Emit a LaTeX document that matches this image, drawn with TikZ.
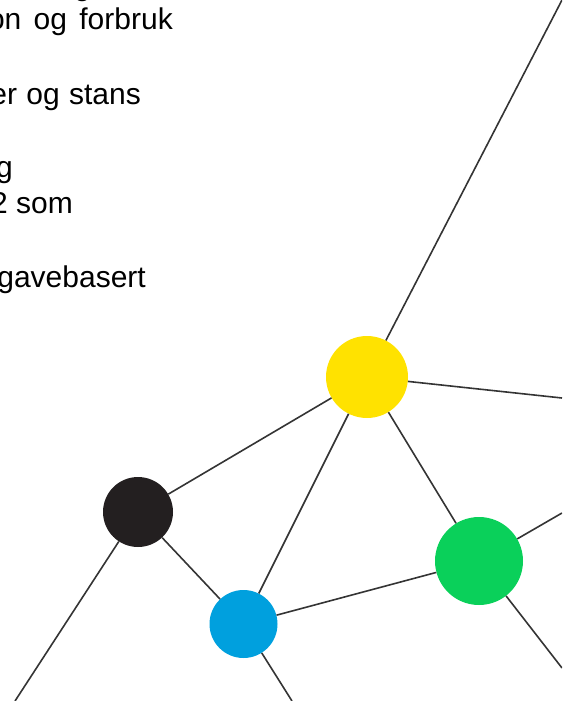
\documentclass[tikz,border=0pt]{standalone}
\usepackage{fontspec}
\setmainfont{Liberation Sans}
\definecolor{dotyellow}{RGB}{255,226,0}
\definecolor{dotblack}{RGB}{35,31,32}
\definecolor{dotblue}{RGB}{0,160,222}
\definecolor{dotgreen}{RGB}{10,208,90}
\definecolor{wirecol}{RGB}{52,52,52}
\begin{document}
\begin{tikzpicture}[x=1pt,y=-1pt,
  dot/.style={circle, inner sep=0pt, draw=none},
  txt/.style={anchor=base east, inner sep=0pt, text=black, font=\fontsize{30}{36}\selectfont},
  wire/.style={line width=1.6pt, draw=wirecol}]
\useasboundingbox (0,0) rectangle (562,701);
\clip (0,0) rectangle (562,701);
% text, cut at the left edge (justified, so wider spaces)
\node[txt] (ln0) at (91,-4) {g};
\node[txt] (ln1) at (173,30) {on\hspace{4pt} og\hspace{4pt} forbruk};
\node[txt] (ln2) at (141,104) {er\hspace{1pt} og\hspace{1pt} stans};
\node[txt] (ln3) at (13,177) {g};
\node[txt] (ln4) at (73,213) {2 som};
\node[txt] (ln5) at (146,287) {gavebasert};
% dots
\node[dot, fill=dotyellow, minimum size=82pt] (yel) at (367,377){};
\node[dot, fill=dotblack, minimum size=70pt] (blk) at (138,512){};
\node[dot, fill=dotblue, minimum size=68pt] (blu) at (243.5,624){};
\node[dot, fill=dotgreen, minimum size=88pt] (grn) at (479,561){};
% free ends at the edges
\coordinate (eTop) at (562,0);
\coordinate (eRa) at (562,398);
\coordinate (eRb) at (562,513);
\coordinate (eRc) at (562,668);
\coordinate (eBl) at (15,701);
\coordinate (eBb) at (292,701);
\draw[wire](yel) -- (eTop);
\draw[wire](yel) -- (eRa);
\draw[wire](yel) -- (blk);
\draw[wire](yel) -- (blu);
\draw[wire](yel) -- (grn);
\draw[wire](blk) -- (blu);
\draw[wire](blk) -- (eBl);
\draw[wire](blu) -- (grn);
\draw[wire](blu) -- (eBb);
\draw[wire](grn) -- (eRb);
\draw[wire](grn) -- (eRc);
\end{tikzpicture}
\end{document}
